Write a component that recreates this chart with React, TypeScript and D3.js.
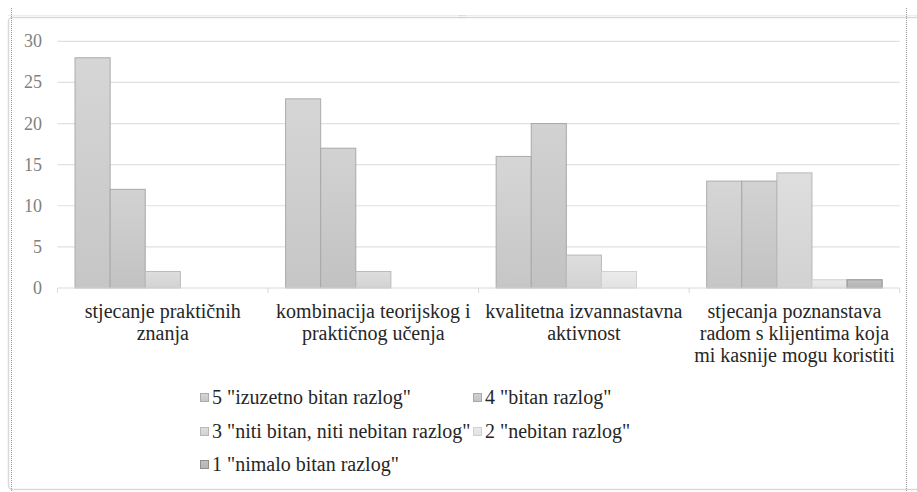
import React from "react";
import * as d3 from "d3";

const categories = [
  ["stjecanje praktičnih", "znanja"],
  ["kombinacija teorijskog i", "praktičnog učenja"],
  ["kvalitetna izvannastavna", "aktivnost"],
  ["stjecanja poznanstava", "radom s klijentima koja", "mi kasnije mogu koristiti"],
];
const seriesNames = [
  '5 "izuzetno bitan razlog"',
  '4 "bitan razlog"',
  '3 "niti bitan, niti nebitan razlog"',
  '2 "nebitan razlog"',
  '1 "nimalo bitan razlog"',
];
const s5 = [28, 23, 16, 13];
const s4 = [12, 17, 20, 13];
const s3 = [2, 2, 4, 14];
const s2 = [0, 0, 2, 1];
const s1 = [0, 0, 0, 1];
const yTicks = [0, 5, 10, 15, 20, 25, 30];

const seriesValues = [s5, s4, s3, s2, s1];
const fillsTop = ["#d6d6d6", "#d2d2d2", "#dedede", "#ebebeb", "#c2c2c2"];
const fillsBot = ["#c6c6c6", "#c2c2c2", "#d2d2d2", "#e2e2e2", "#b4b4b4"];
const strokes = ["#ababab", "#a8a8a8", "#b8b8b8", "#d0d0d0", "#8f8f8f"];

const F = "Liberation Serif";

export default function App() {
  const W = 917, H = 492;
  const left = 57.5, right = 899.7, top = 41.3, bottom = 288;
  const x0 = d3.scaleBand<number>().domain(d3.range(categories.length)).range([left, right]).paddingInner(0).paddingOuter(0);
  const bw = x0.bandwidth();
  const x1 = d3.scaleBand<number>().domain(d3.range(seriesNames.length)).range([bw / 12, bw - bw / 12]).paddingInner(0).paddingOuter(0);
  const y = d3.scaleLinear().domain([0, 30]).range([bottom, top]);
  const legendPos = [
    [200, 398], [473, 398], [200, 432], [473, 432], [200, 465],
  ];
  return (
    <svg width={W} height={H} style={{ position: "absolute", left: 0, top: 0, fontFamily: F }}>
      <defs>
        {seriesNames.map((_, i) => (
          <linearGradient key={i} id={"g" + i} x1="0" y1="0" x2="0" y2="1">
            <stop offset="0" stopColor={fillsTop[i]} />
            <stop offset="1" stopColor={fillsBot[i]} />
          </linearGradient>
        ))}
      </defs>
      <rect x={0} y={0} width={W} height={H} fill="#fff" />
      {/* frame */}
      <rect x={8.5} y={17.5} width={960} height={472} rx={4} fill="none" stroke="#d9d9d9" strokeWidth={1.5} />
      <line x1={8} x2={917} y1={15.5} y2={15.5} stroke="#ececec" strokeWidth={1} />
      <line x1={11.5} x2={11.5} y1={8} y2={492} stroke="#9a9a9a" strokeWidth={1} strokeDasharray="1,1" />
      <line x1={906.5} x2={906.5} y1={8} y2={492} stroke="#9a9a9a" strokeWidth={1} strokeDasharray="1,1" />
      <text x={462} y={18} fontSize={6} fill="#bbb" textAnchor="middle" style={{ fontFamily: F }}>::::</text>
      {/* grid */}
      {yTicks.slice(1).map((t) => (
        <line key={t} x1={left} x2={right} y1={y(t)} y2={y(t)} stroke="#e0e0e0" strokeWidth={1.2} />
      ))}
      {yTicks.map((t) => (
        <text key={"l" + t} x={42} y={y(t) + 6} fontSize={18} fill="#808080" textAnchor="end" style={{ fontFamily: F }}>{t}</text>
      ))}
      {/* bars */}
      {categories.map((_, ci) => (
        <g key={ci} transform={`translate(${x0(ci)},0)`}>
          {seriesValues.map((vals, si) => vals[ci] > 0 ? (
            <rect key={si} x={x1(si)} y={y(vals[ci])} width={x1.bandwidth()} height={y(0) - y(vals[ci])}
              fill={`url(#g${si})`} stroke={strokes[si]} strokeWidth={1} />
          ) : null)}
        </g>
      ))}
      {/* axis */}
      <line x1={left} x2={right} y1={bottom} y2={bottom} stroke="#d9d9d9" strokeWidth={1.2} />
      {d3.range(categories.length + 1).map((i) => {
        const xx = i < categories.length ? x0(i)! : right;
        return <line key={"t" + i} x1={xx} x2={xx} y1={bottom} y2={bottom + 5} stroke="#d9d9d9" strokeWidth={1} />;
      })}
      {categories.map((lines, ci) =>
        lines.map((ln, li) => (
          <text key={"c" + ci + "_" + li} x={x0(ci)! + bw / 2} y={318 + li * 22} textAnchor="middle" fontSize={20} fill="#262626" style={{ fontFamily: F }}>{ln}</text>
        ))
      )}
      {/* legend */}
      {seriesNames.map((name, i) => (
        <g key={"lg" + i} transform={`translate(${legendPos[i][0]},${legendPos[i][1]})`}>
          <rect x={0.5} y={-4.5} width={8} height={8} fill={`url(#g${i})`} stroke={strokes[i]} strokeWidth={1} />
          <text x={12} y={6} fontSize={20} fill="#262626" style={{ fontFamily: F }}>{name}</text>
        </g>
      ))}
    </svg>
  );
}
